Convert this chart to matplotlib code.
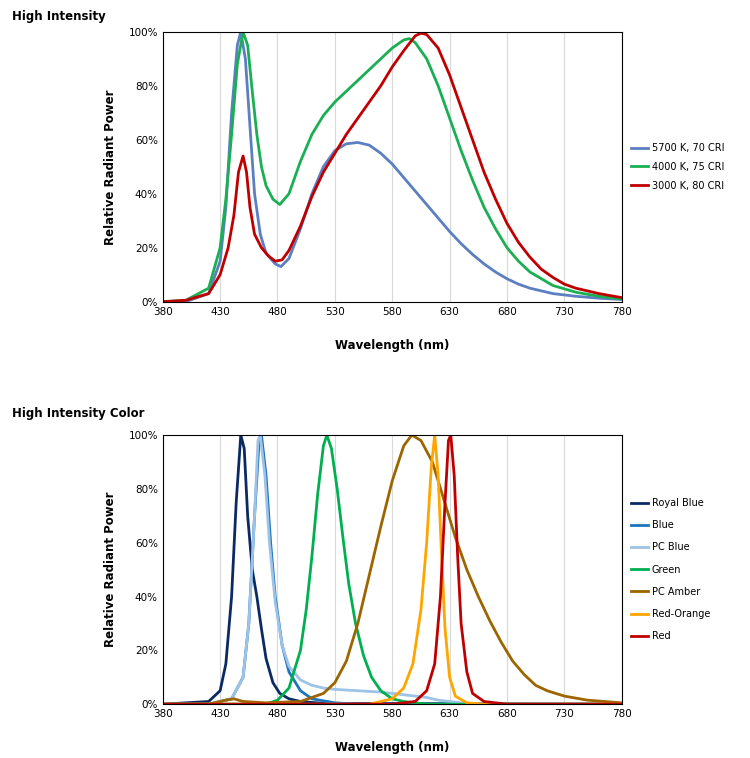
import matplotlib
matplotlib.use("Agg")
import matplotlib.pyplot as plt

# ---- Top chart data ----
k5700_wl = [380,400,420,430,435,440,445,448,452,456,460,465,470,478,483,490,500,510,520,530,540,550,560,570,580,590,600,610,620,630,640,650,660,670,680,690,700,720,740,760,780]
k5700_v  = [0,0,3,15,35,70,95,100,90,65,40,25,18,14,13,16,27,40,50,56,58.5,59,58,55,51,46,41,36,31,26,21.5,17.5,14,11,8.5,6.5,5,3,2,1.3,0.8]
k4000_wl = [380,400,420,430,435,440,445,450,454,458,462,466,470,476,482,490,500,510,520,530,540,550,560,570,580,590,595,600,610,620,630,640,650,660,670,680,690,700,720,740,760,780]
k4000_v  = [0,0.5,5,20,38,62,88,100,95,78,62,50,43,38,36,40,52,62,69,74,78,82,86,90,94,97,97.5,96,90,80,68,56,45,35,27,20,15,11,6,3.5,2,1]
k3000_wl = [380,400,420,430,437,442,446,450,453,456,460,466,472,478,484,490,500,510,520,530,540,550,560,570,580,590,600,605,610,620,630,640,650,660,670,680,690,700,710,720,730,740,760,780]
k3000_v  = [0,0.5,3,10,20,32,48,54,48,35,25,20,17,15,15.5,19,28,39,48,55,62,68,74,80,87,93,98.5,99.5,99,94,84,72,60,48,38,29,22,16.5,12,9,6.5,5,3,1.5]
top_names = ["5700 K, 70 CRI", "4000 K, 75 CRI", "3000 K, 80 CRI"]
top_colors = ["#5B7FC1", "#1AAF54", "#C00000"]

# ---- Bottom chart data ----
rb_wl = [380,420,430,435,440,444,448,451,454,458,462,466,470,476,482,490,500,520,780]
rb_v  = [0,1,5,15,40,75,100,95,70,50,40,28,17,8,4,2,1,0.3,0]
bl_wl = [380,420,440,450,455,460,464,466,470,474,478,484,490,500,510,530,550,780]
bl_v  = [0,0,2,10,30,70,98,100,85,60,40,22,12,5,2,0.5,0,0]
pcb_wl = [380,420,440,450,455,460,463,465,469,473,478,484,490,500,510,520,530,550,570,580,590,600,610,620,640,660,780]
pcb_v  = [0,0,2,10,30,70,98,100,85,60,38,22,14,9,7,6,5.5,5,4.5,4,3.5,3,2.5,1.5,0.5,0,0]
gr_wl = [380,470,480,490,500,505,510,515,520,523,527,532,537,542,548,555,562,570,580,590,610,780]
gr_v  = [0,0,1.5,6,20,35,55,78,96,100,95,80,62,45,30,18,10,5,2,1,0,0]
am_wl = [380,420,435,442,450,470,500,520,530,540,550,560,570,580,590,597,605,615,625,635,645,655,665,675,685,695,705,715,730,750,780]
am_v  = [0,0,1.5,2,1,0.5,1,4,8,16,30,48,66,83,96,100,98,90,76,62,50,40,31,23,16,11,7,5,3,1.5,0.5]
ro_wl = [380,560,580,590,598,605,610,614,617,620,623,626,630,635,645,660,780]
ro_v  = [0,0,2,6,15,35,60,88,100,85,55,28,10,3,0.5,0,0]
rd_wl = [380,580,600,610,617,622,626,629,631,634,637,640,645,650,660,680,780]
rd_v  = [0,0,1,5,15,40,75,98,100,85,55,30,12,4,1,0,0]
bot_names = ["Royal Blue","Blue","PC Blue","Green","PC Amber","Red-Orange","Red"]
bot_colors = ["#0B2A63","#1C75BC","#9DC3E6","#00B050","#9C6500","#FFA500","#C00000"]

xticks = list(range(380, 781, 50))
yticks = [0,20,40,60,80,100]
ytick_labels = ["0%","20%","40%","60%","80%","100%"]

fig = plt.figure(figsize=(7.5, 7.58), dpi=100)

def style(ax):
    ax.set_xlim(380, 780); ax.set_ylim(0, 100)
    ax.set_xticks(xticks); ax.set_yticks(yticks)
    ax.set_yticklabels(ytick_labels)
    ax.tick_params(labelsize=7.5, length=0)
    ax.grid(axis="x", color="#D9D9D9", lw=0.8)
    ax.set_axisbelow(True)
    for s in ax.spines.values():
        s.set_color("black"); s.set_linewidth(0.8)
    ax.set_xlabel("Wavelength (nm)", fontsize=8.5, fontweight="bold", labelpad=16)
    ax.set_ylabel("Relative Radiant Power", fontsize=8.5, fontweight="bold", labelpad=8)

ax1 = fig.add_axes([0.217, 0.602, 0.612, 0.356])
for wl, v, n, c in zip([k5700_wl,k4000_wl,k3000_wl],[k5700_v,k4000_v,k3000_v],top_names,top_colors):
    ax1.plot(wl, v, color=c, lw=2.0, label=n)
style(ax1)
ax1.legend(loc="center left", bbox_to_anchor=(1.0, 0.5), frameon=False, fontsize=7, handlelength=1.8,
           handletextpad=0.4, borderaxespad=0.5, labelspacing=0.9)
fig.text(0.016, 0.987, "High Intensity", fontsize=8.5, fontweight="bold", va="top")

ax2 = fig.add_axes([0.217, 0.071, 0.612, 0.355])
for wl, v, n, c in zip([rb_wl,bl_wl,pcb_wl,gr_wl,am_wl,ro_wl,rd_wl],[rb_v,bl_v,pcb_v,gr_v,am_v,ro_v,rd_v],bot_names,bot_colors):
    ax2.plot(wl, v, color=c, lw=2.0, label=n)
style(ax2)
ax2.legend(loc="center left", bbox_to_anchor=(1.0, 0.5), frameon=False, fontsize=7, handlelength=1.8,
           handletextpad=0.4, borderaxespad=0.5, labelspacing=1.25)
fig.text(0.016, 0.463, "High Intensity Color", fontsize=8.5, fontweight="bold", va="top")

fig.savefig("out.png", dpi=100)
